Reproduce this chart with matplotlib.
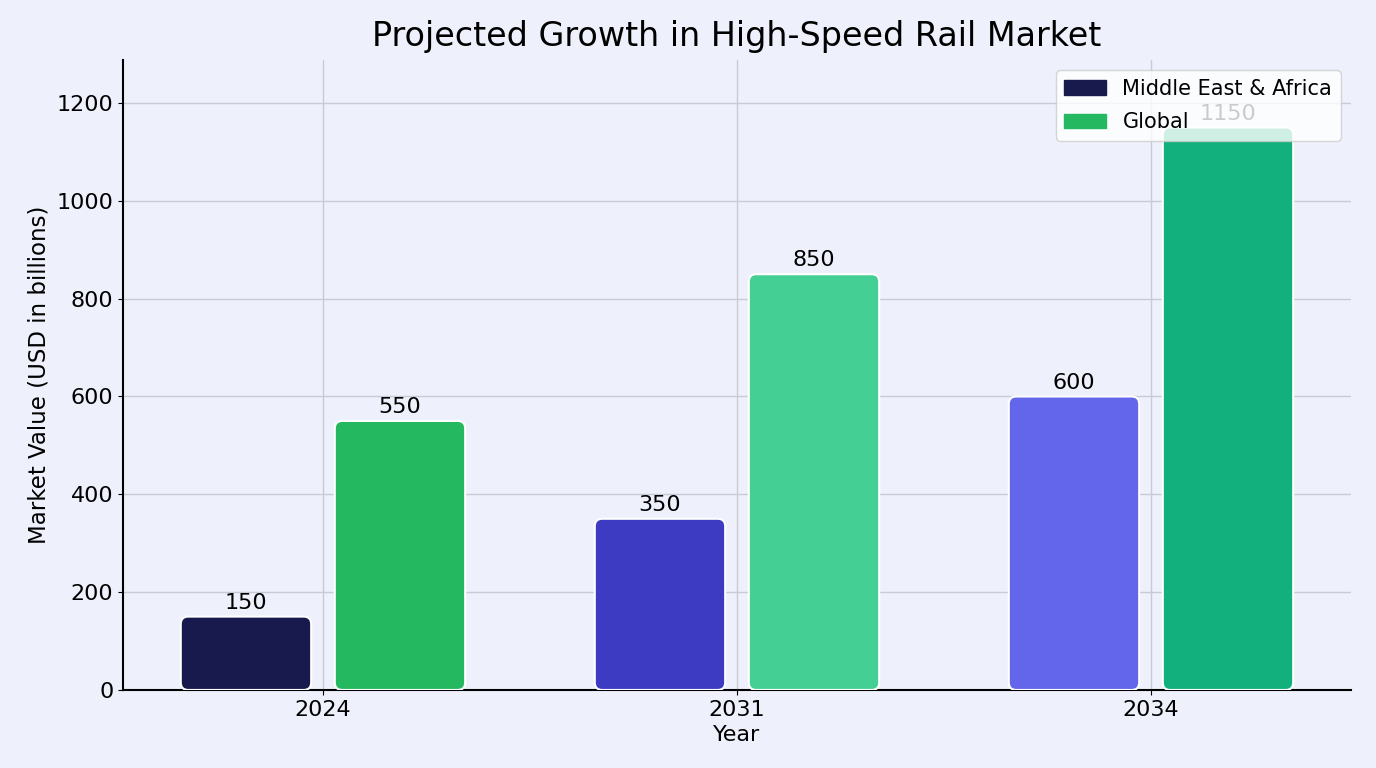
import matplotlib
matplotlib.use('Agg')
import matplotlib.pyplot as plt
from matplotlib.patches import FancyBboxPatch, Patch
import numpy as np

years = ['2024', '2031', '2034']
mea_values = [150, 350, 600]
global_values = [550, 850, 1150]
mea_colors = ['#181a4e', '#3d3bc1', '#6366ea']
global_colors = ['#24b860', '#44cf94', '#12b07d']

BG = '#eef1fb'


def round_bars(ax, rects, aspect):
    # swap the square bars for rounded ones of the same size
    for r in rects:
        x, y = r.get_x(), r.get_y()
        w, h = r.get_width(), r.get_height()
        patch = FancyBboxPatch((x, y), w, h,
                               boxstyle='round,pad=0,rounding_size=0.018',
                               mutation_aspect=aspect,
                               facecolor=r.get_facecolor(), edgecolor='white',
                               linewidth=1.5, zorder=3)
        r.set_visible(False)
        ax.add_patch(patch)


fig, ax = plt.subplots(figsize=(13.76, 7.68), dpi=100)
fig.patch.set_facecolor(BG)
ax.set_facecolor(BG)
plt.subplots_adjust(left=0.0894, right=0.9818, top=0.9219, bottom=0.1016)

x = np.arange(len(years))
w = 0.315
off = 0.186
xlim = (-0.483, 2.483)
ylim = (0, 1288)
ax.set_xlim(*xlim)
ax.set_ylim(*ylim)

# data-units-per-pixel ratio y/x so the corners come out round
bbox = ax.get_window_extent()
aspect = ((ylim[1] - ylim[0]) / bbox.height) / ((xlim[1] - xlim[0]) / bbox.width)

r1 = ax.bar(x - off, mea_values, w, color=mea_colors, zorder=3)
r2 = ax.bar(x + off, global_values, w, color=global_colors, zorder=3)
round_bars(ax, r1, aspect)
round_bars(ax, r2, aspect)

for rects, vals in ((r1, mea_values), (r2, global_values)):
    for r, v in zip(rects, vals):
        ax.text(r.get_x() + r.get_width() / 2, v + 8, str(v), ha='center', va='bottom',
                fontsize=16, zorder=4)

ax.set_xticks(x)
ax.set_xticklabels(years)
ax.set_yticks([0, 200, 400, 600, 800, 1000, 1200])
ax.tick_params(labelsize=16)
ax.set_xlabel('Year', fontsize=16)
ax.set_ylabel('Market Value (USD in billions)', fontsize=16.5)
ax.set_title('Projected Growth in High-Speed Rail Market', fontsize=24, pad=10)

ax.grid(True, color='#c8cad4', linewidth=1, zorder=0)
ax.set_axisbelow(True)
ax.spines['top'].set_visible(False)
ax.spines['right'].set_visible(False)
ax.spines['left'].set_linewidth(1.5)
ax.spines['bottom'].set_linewidth(1.5)

handles = [Patch(color=mea_colors[0], label='Middle East & Africa'),
           Patch(color=global_colors[0], label='Global')]
leg = ax.legend(handles=handles, loc='upper right', fontsize=15, framealpha=0.8,
                facecolor='white', edgecolor='#cccccc', handlelength=2.0,
                labelspacing=0.65)
leg.set_zorder(5)

plt.savefig('out.png', dpi=100, facecolor=BG)
